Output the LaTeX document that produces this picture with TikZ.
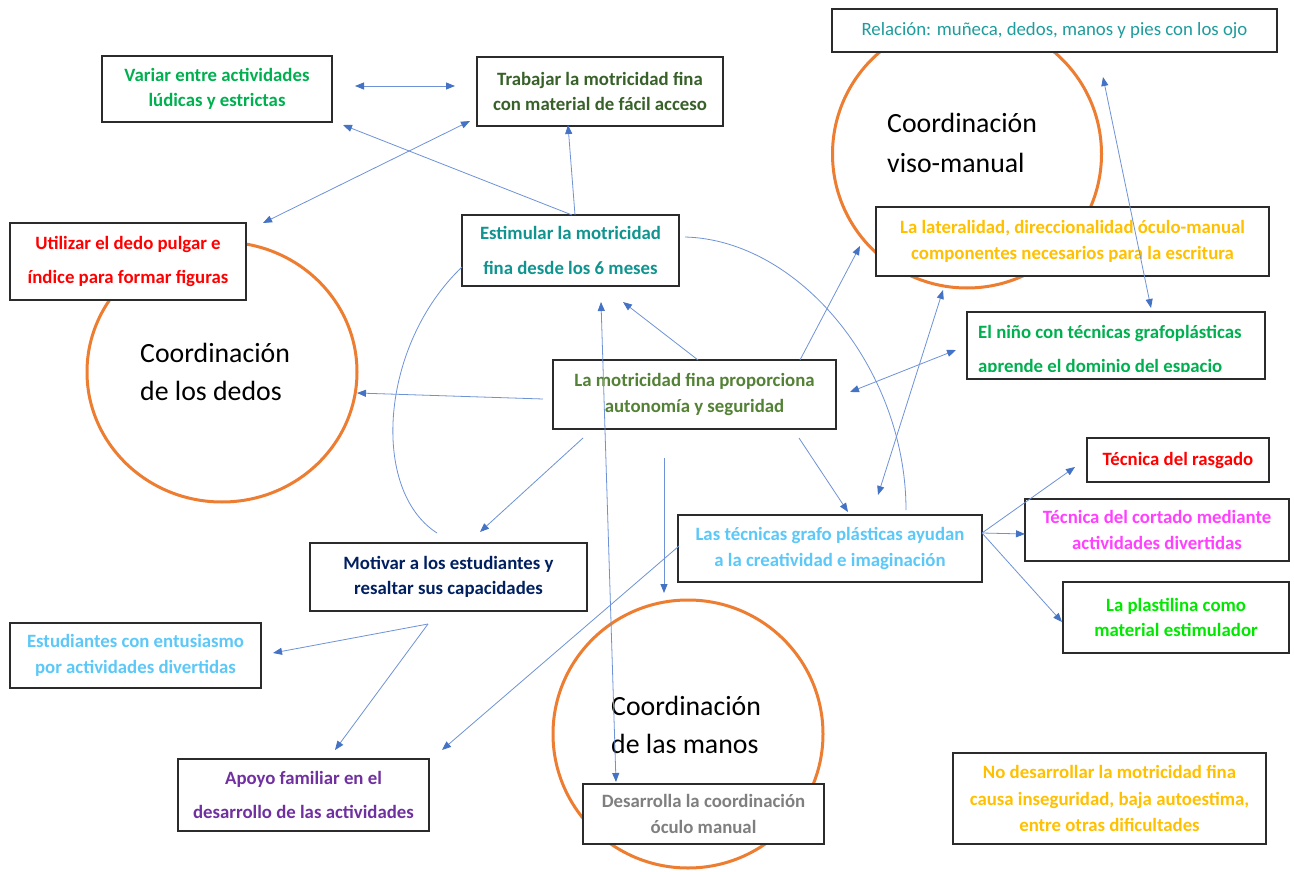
\documentclass[tikz,border=0pt]{standalone}
\usepackage{fontspec}
\setmainfont{Carlito}
\usetikzlibrary{arrows.meta,shapes.geometric}
\definecolor{boxline}{HTML}{2B2B2B}
\definecolor{circline}{HTML}{ED7D31}
\definecolor{arrline}{HTML}{6E92D6}
\definecolor{arrhead}{HTML}{4472C4}
\definecolor{cgreen}{HTML}{00B050}
\definecolor{cdkgreen}{HTML}{38612A}
\definecolor{cteal}{HTML}{1F9C9C}
\definecolor{cteal2}{HTML}{10948F}
\definecolor{cred}{HTML}{FF0000}
\definecolor{cgold}{HTML}{FFC000}
\definecolor{cmotr}{HTML}{538135}
\definecolor{clblue}{HTML}{5CC8F8}
\definecolor{cmagenta}{HTML}{FF40FF}
\definecolor{clime}{HTML}{00E800}
\definecolor{cnavy}{HTML}{002060}
\definecolor{cpurple}{HTML}{7030A0}
\definecolor{cgray}{HTML}{7F7F7F}
\begin{document}
\begin{tikzpicture}[x=1pt,y=-1pt,
  box/.style={draw=boxline, line width=1.3pt, fill=white, inner sep=0pt, align=center,
    font=\fontsize{18.8}{25.7}\selectfont\bfseries},
  wide/.style={font=\fontsize{18.8}{34.5}\selectfont\bfseries},
  circ/.style={draw=circline, line width=3pt, ellipse, inner sep=0pt},
  ctext/.style={anchor=base west, inner sep=0pt, font=\fontsize{27.8}{34}\selectfont},
  link/.style={draw=arrline, line width=0.8pt},
  arr/.style={link, -{Triangle[length=9pt,width=7pt,color=arrhead]}},
  darr/.style={link, {Triangle[length=9pt,width=7pt,color=arrhead]}-{Triangle[length=9pt,width=7pt,color=arrhead]}}
]
\useasboundingbox (0,0) rectangle (1294,872);
\fill[white] (0,0) rectangle (1294,872);

% circles
\node[circ, minimum width=270pt, minimum height=260pt] (cdedos) at (222,372) {};
\node[circ, minimum width=269pt, minimum height=268pt] (cviso) at (967,154) {};
\node[circ, minimum width=270pt, minimum height=268pt] (cmanos) at (688,734) {};
\node[ctext] (tdedos1) at (140,362) {Coordinación};
\node[ctext] (tdedos2) at (140,400) {de los dedos};
\node[ctext] (tviso1) at (887,133) {Coordinación};
\node[ctext] (tviso2) at (887,172) {viso-manual};
\node[ctext] (tmanos1) at (611,715) {Coordinación};
\node[ctext] (tmanos2) at (611,753) {de las manos};

% boxes
\node[box, text=cgreen, minimum width=230pt, minimum height=66pt] (variar) at (217,89) {Variar entre actividades\\lúdicas y estrictas};
\node[box, text=cdkgreen, minimum width=246pt, minimum height=69pt] (trabajar) at (600,91.5) {Trabajar la motricidad fina\\con material de fácil acceso};
\node[box, text=cteal, minimum width=445pt, minimum height=43pt, font=\fontsize{18.8}{25.7}\selectfont] (relacion) at (1054.5,30.5) {Relación: muñeca, dedos, manos y pies con los ojo};
\node[box, wide, text=cteal2, minimum width=217pt, minimum height=71pt] (estimular) at (570.5,250.5) {Estimular la motricidad\\fina desde los 6 meses};
\node[box, wide, text=cred, minimum width=236pt, minimum height=77pt] (utilizar) at (128,261.5) {Utilizar el dedo pulgar e\\índice para formar figuras};
\node[box, text=cgold, minimum width=393pt, minimum height=69pt] (lateral) at (1072.5,241.5) {La lateralidad, direccionalidad óculo-manual\\componentes necesarios para la escritura};
\node[box, minimum width=298pt, minimum height=67pt] (nino) at (1116,345.5) {};
\coordinate (ninoclipA) at (968,313);
\coordinate (ninoclipB) at (1264,371.5);
\begin{scope}
  \clip (ninoclipA) rectangle (ninoclipB);
  \node[anchor=base west, inner sep=0pt, text=cgreen, font=\fontsize{18.8}{25.7}\selectfont\bfseries] (nino1) at (978,338) {El niño con técnicas grafoplásticas};
  \node[anchor=base west, inner sep=0pt, text=cgreen, font=\fontsize{18.8}{25.7}\selectfont\bfseries] (nino2) at (978,372) {aprende el dominio del espacio};
\end{scope}
\draw[draw=boxline, line width=1.3pt] (nino.north west) rectangle (nino.south east);
\node[box, text=cmotr, minimum width=283pt, minimum height=69pt] (motri) at (694.5,394.5) {La motricidad fina proporciona\\autonomía y seguridad};
\node[box, text=clblue, minimum width=304pt, minimum height=67pt] (tecnicas) at (830,548.5) {Las técnicas grafo plásticas ayudan\\a la creatividad e imaginación};
\node[box, text=cred, minimum width=182pt, minimum height=44pt] (rasgado) at (1178,460) {Técnica del rasgado};
\node[box, text=cmagenta, minimum width=264pt, minimum height=62pt] (cortado) at (1157,530) {Técnica del cortado mediante\\actividades divertidas};
\node[box, text=clime, minimum width=226pt, minimum height=71pt] (plastilina) at (1176,617.5) {La plastilina como\\material estimulador};
\node[box, text=cnavy, minimum width=277pt, minimum height=68pt] (motivar) at (448.5,577) {Motivar a los estudiantes y\\resaltar sus capacidades};
\node[box, text=clblue, minimum width=251pt, minimum height=65pt] (estudiantes) at (135.5,655.5) {Estudiantes con entusiasmo\\por actividades divertidas};
\node[box, wide, text=cpurple, minimum width=251pt, minimum height=72pt] (apoyo) at (303.5,795) {Apoyo familiar en el\\desarrollo de las actividades};
\node[box, text=cgray, minimum width=241pt, minimum height=60pt] (desarrolla) at (703.5,814) {Desarrolla la coordinación\\óculo manual};
\node[box, text=cgold, minimum width=313pt, minimum height=91pt, font=\fontsize{18.8}{26.5}\selectfont\bfseries] (nodes) at (1109.5,798.5) {No desarrollar la motricidad fina\\causa inseguridad, baja autoestima,\\entre otras dificultades};

% connector end points
\coordinate (p1a) at (355,86);  \coordinate (p1b) at (455,86);
\coordinate (p2a) at (572,215); \coordinate (p2b) at (343,125);
\coordinate (p3a) at (575,215); \coordinate (p3b) at (568,125);
\coordinate (p4a) at (263,223); \coordinate (p4b) at (470,121);
\coordinate (p5a) at (698,360); \coordinate (p5b) at (623,302);
\coordinate (p6a) at (601,302); \coordinate (p6b) at (616,782);
\coordinate (p7a) at (543,399); \coordinate (p7b) at (357,393);
\coordinate (p8a) at (583,438); \coordinate (p8b) at (480,532);
\coordinate (p9a) at (664,458); \coordinate (p9b) at (664,593);
\coordinate (p10a) at (799,438); \coordinate (p10b) at (848,512);
\coordinate (p11a) at (800,360); \coordinate (p11b) at (860,246);
\coordinate (p12a) at (850,392); \coordinate (p12b) at (956,350);
\coordinate (p13a) at (943,290); \coordinate (p13b) at (878,495);
\coordinate (p14a) at (1103,77); \coordinate (p14b) at (1151,308);
\coordinate (p15) at (982,533);
\coordinate (p15r) at (1075,467); \coordinate (p15c) at (1025,534); \coordinate (p15p) at (1062,622);
\coordinate (p16a) at (679,546); \coordinate (p16b) at (442,750);
\coordinate (p17) at (428,624);
\coordinate (p17e) at (273,653); \coordinate (p17a) at (335,750);
\coordinate (c1a) at (462,267); \coordinate (c1b) at (437,533);
\coordinate (c2a) at (685,237); \coordinate (c2b) at (906,510);

% connectors
\draw[darr] (p1a) -- (p1b);
\draw[arr] (p2a) -- (p2b);
\draw[arr] (p3a) -- (p3b);
\draw[darr] (p4a) -- (p4b);
\draw[arr] (p5a) -- (p5b);
\draw[darr] (p6a) -- (p6b);
\draw[arr] (p7a) -- (p7b);
\draw[arr] (p8a) -- (p8b);
\draw[arr] (p9a) -- (p9b);
\draw[arr] (p10a) -- (p10b);
\draw[arr] (p11a) -- (p11b);
\draw[darr] (p12a) -- (p12b);
\draw[darr] (p13a) -- (p13b);
\draw[darr] (p14a) -- (p14b);
\draw[arr] (p15) -- (p15r);
\draw[arr] (p15) -- (p15c);
\draw[arr] (p15) -- (p15p);
\draw[arr] (p16a) -- (p16b);
\draw[arr] (p17) -- (p17e);
\draw[arr] (p17) -- (p17a);
\draw[link] (c1a) .. controls (380,345) and (370,490) .. (c1b);
\draw[link] (c2a) .. controls (800,240) and (906,370) .. (c2b);
\end{tikzpicture}
\end{document}
